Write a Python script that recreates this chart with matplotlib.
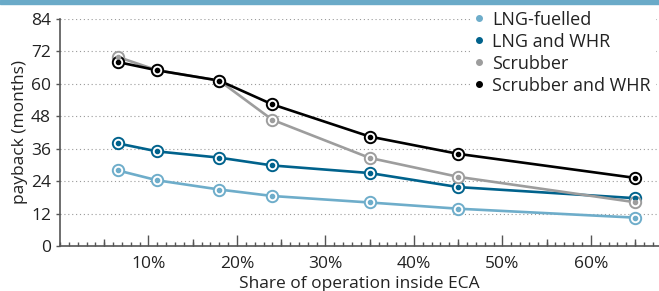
import matplotlib.pyplot as plt
from matplotlib.patches import Rectangle
from matplotlib.ticker import MultipleLocator

plt.rcParams['font.family'] = ['Open Sans', 'DejaVu Sans']

share_eca = [6.5, 11, 18, 24, 35, 45, 65]
lng_fuelled = [28.0, 24.3, 20.9, 18.5, 16.1, 13.8, 10.5]
lng_whr = [38.0, 35.0, 32.7, 29.8, 27.0, 21.8, 17.7]
scrubber = [70.0, 65.0, 61.2, 46.7, 32.6, 25.6, 16.2]
scrubber_whr = [68.1, 65.0, 61.2, 52.4, 40.5, 34.1, 25.2]

series = [
    ("LNG-fuelled", lng_fuelled, "#6eadca"),
    ("LNG and WHR", lng_whr, "#00628c"),
    ("Scrubber", scrubber, "#9d9d9d"),
    ("Scrubber and WHR", scrubber_whr, "#000000"),
]
y_ticks = [0, 12, 24, 36, 48, 60, 72, 84]
x_ticks = [10, 20, 30, 40, 50, 60]

fig = plt.figure(figsize=(6.59, 2.91), dpi=100)
ax = fig.add_axes([60 / 659, 45 / 291, 599 / 659, 227 / 291])

# banner strip at the very top
fig.patches.append(Rectangle((0, 1 - 4 / 291), 1, 4 / 291, transform=fig.transFigure,
                             color="#6aaac8", zorder=0))

handles = []
for label, vals, col in series:
    ax.plot(share_eca, vals, color=col, lw=1.9, zorder=2)
    ax.plot(share_eca, vals, ls="none", marker="o", ms=8.2, mfc="white", mec=col, mew=1.4, zorder=3)
    ax.plot(share_eca, vals, ls="none", marker="o", ms=3, mfc=col, mec=col, zorder=4)
    h, = ax.plot([], [], ls="none", marker="o", ms=4, color=col, label=label)
    handles.append(h)

ax.set_xlim(0, 67.7)
ax.set_ylim(0, 84)
ax.set_yticks(y_ticks)
ax.set_xticks(x_ticks)
ax.set_xticklabels([f"{t}%" for t in x_ticks])
ax.xaxis.set_minor_locator(MultipleLocator(1))
ax.yaxis.grid(True, ls=(0, (1, 2.5)), color="#9a9a9a", lw=0.8)
ax.set_axisbelow(True)

for s in ["top", "right"]:
    ax.spines[s].set_visible(False)
for s in ["left", "bottom"]:
    ax.spines[s].set_color("#555555")
    ax.spines[s].set_linewidth(1.2)

ax.tick_params(axis="x", which="major", direction="in", length=8, width=1, color="#555555",
               labelsize=12.5, pad=7, labelcolor="#222222")
ax.tick_params(axis="x", which="minor", direction="in", length=3, width=1, color="#555555")
ax.tick_params(axis="y", direction="out", length=3, width=1, color="#555555",
               labelsize=12.5, labelcolor="#222222")
# medium ticks at the 5% marks
ax5 = ax.secondary_xaxis("bottom")
ax5.set_xticks([5, 15, 25, 35, 45, 55, 65])
ax5.set_xticklabels([])
ax5.tick_params(direction="in", length=5, width=1, color="#555555")
ax5.spines["bottom"].set_visible(False)

ax.set_ylabel("payback (months)", fontsize=12.5, color="#222222", labelpad=2)
ax.set_xlabel("Share of operation inside ECA", fontsize=12.5, color="#222222", labelpad=3)

leg = ax.legend(handles=handles, loc="upper right", bbox_to_anchor=(0.995, 1.06), frameon=True,
                fontsize=13, handlelength=0.4, handletextpad=0.5, labelspacing=0.22,
                borderaxespad=0, borderpad=0.3, facecolor="white", edgecolor="none", framealpha=1)
for t in leg.get_texts():
    t.set_color("#222222")

fig.savefig("out.png", dpi=100)
